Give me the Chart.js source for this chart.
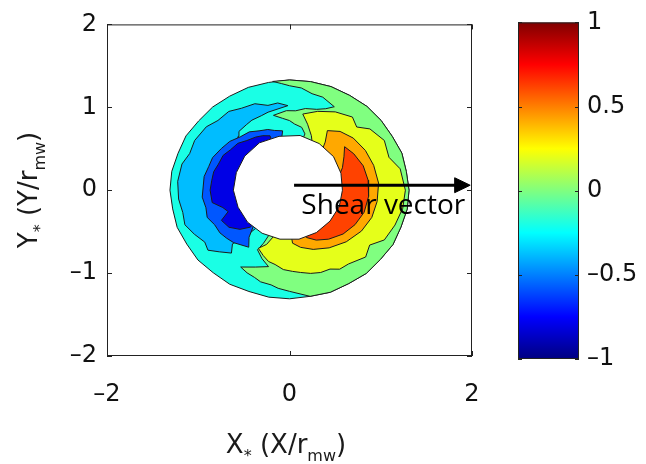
<!DOCTYPE html>
<html>
<head>
<meta charset="utf-8">
<script src="https://cdn.jsdelivr.net/npm/chart.js@4.4.1/dist/chart.umd.min.js"></script>
<style>
  html, body { margin: 0; padding: 0; background: #fff; }
  #wrap { position: relative; width: 646px; height: 464px; }
  #wrap canvas { position: absolute; left: 0; top: 0; }
</style>
</head>
<body>
<div id="wrap">
  <canvas id="ring" width="646" height="464"></canvas>
  <canvas id="cbar" width="646" height="464"></canvas>
</div>
<script>
// axis ticks
const xTicks = [-2, 0, 2];
const yTicks = [-2, -1, 0, 1, 2];
const barTicks = [-1, -0.5, 0, 0.5, 1];

// contour bands, each as [angle (deg), radius] around the centre
const rimOuter = [[-180,1.31],[-170,1.30],[-160,1.31],[-150,1.30],[-140,1.31],[-130,1.30],[-120,1.31],[-110,1.30],
  [-100,1.31],[-90,1.31],[-80,1.30],[-70,1.31],[-60,1.30],[-50,1.31],[-40,1.30],[-30,1.31],[-20,1.30],[-10,1.31],
  [0,1.31],[10,1.30],[20,1.31],[30,1.30],[40,1.31],[50,1.32],[60,1.32],[70,1.33],[80,1.33],[90,1.33],[100,1.32],
  [110,1.32],[120,1.31],[130,1.31],[140,1.30],[150,1.31],[160,1.30],[170,1.31]];
const rimInner = [[0,0.58],[20,0.6],[40,0.63],[60,0.65],[80,0.67],[100,0.66],[120,0.66],[140,0.64],[160,0.62],
  [180,0.615],[200,0.6],[220,0.6],[240,0.6],[260,0.6],[280,0.6],[300,0.59],[320,0.58],[340,0.58]];
const bandLightBlue = [[91,1.02],[97,1.06],[103,1.05],[110,1.11],[118,1.12],[125,1.16],[133,1.15],[140,1.19],
  [150,1.2],[158,1.18],[165,1.22],[175,1.23],[185,1.22],[193,1.2],[200,1.22],[207,1.17],[214,1.12],[219,1.15],
  [224,1.07],[230,0.99],[226,0.9],[229,0.75],[232,0.55],[140,0.55],[136,0.8],[131,0.86],[128,0.9],[121,0.92],
  [116,0.94],[109,0.95],[104,0.97]];
const bandMidBlue = [[96,0.72],[103,0.74],[108,0.77],[115,0.79],[122,0.83],[130,0.84],[138,0.88],[146,0.9],
  [155,0.93],[162,0.93],[170,0.95],[185,0.96],[193,0.94],[200,0.96],[207,0.92],[214,0.92],[220,0.9],[226,0.88],
  [237,0.82],[232,0.72],[226,0.55],[100,0.55]];
const bandDarkBlue = [[108,0.69],[114,0.72],[120,0.74],[128,0.76],[135,0.8],[143,0.81],[150,0.84],[158,0.84],
  [165,0.86],[172,0.86],[180,0.87],[190,0.86],[196,0.76],[201,0.72],[206,0.83],[214,0.8],[221,0.72],[226,0.62],
  [226,0.55],[108,0.55]];
const greenInner = [[-90,1.22],[-96,1.19],[-100,1.16],[-106,1.15],[-110,1.12],[-115,1.1],[-120,1.07],[-112,1.0],
  [-104,0.95],[-110,0.88],[-116,0.8],[-114,0.7],[-112,0.55],[78,0.55],[76,0.7],[80,0.77],[86,0.8],[90,0.84],
  [95,0.87],[101,0.92],[92,0.96],[86,0.96],[80,1.0],[73,1.02],[68,1.06],[64,1.12],[72,1.18],[78,1.19],
  [84,1.24],[90,1.26],[94,1.29]];
const bandYellow = [[81,0.93],[72,1.0],[62,1.07],[52,1.12],[46,1.06],[40,1.15],[30,1.2],[20,1.16],[12,1.24],
  [0,1.27],[-10,1.26],[-20,1.23],[-30,1.2],[-37,1.1],[-44,1.16],[-54,1.1],[-60,1.1],[-65,1.05],[-71,1.05],
  [-77,1.03],[-83,1.0],[-88,0.98],[-94,0.96],[-100,0.91],[-105,0.89],[-110,0.84],[-116,0.78],[-111,0.7],
  [-106,0.55],[62,0.55],[70,0.7],[76,0.82]];
const bandOrange = [[60,0.83],[52,0.9],[42,0.94],[30,0.96],[18,0.97],[5,0.98],[-8,0.97],[-20,0.96],[-32,0.93],
  [-45,0.88],[-58,0.82],[-70,0.76],[-80,0.7],[-87,0.64],[-88,0.55],[52,0.55],[56,0.7]];
const bandRed = [[41,0.8],[32,0.83],[20,0.86],[8,0.87],[-5,0.87],[-18,0.86],[-30,0.83],[-42,0.79],[-54,0.73],
  [-64,0.67],[-72,0.6],[-72,0.55],[15,0.55],[25,0.64],[34,0.72]];

// green band follows the outer rim between these angles
const greenRimFrom = 98, greenRimTo = -80;
const bandGreen = [[greenRimFrom, 1.325],
  ...rimOuter.filter(p => p[0] < greenRimFrom && p[0] > greenRimTo).reverse(),
  [greenRimTo, 1.30], ...greenInner];

// painted bottom to top, with the value of each band
const ringBands = [rimOuter, bandLightBlue, bandMidBlue, bandDarkBlue, bandGreen, bandYellow, bandOrange, bandRed];
const ringLevels = [-0.2, -0.38, -0.58, -0.8, 0, 0.2, 0.42, 0.62];

// shear vector (x, y)
const shearFrom = [0.05, 0.06];
const shearTo = [1.98, 0.06];

const FONT = '"DejaVu Sans", sans-serif';

function clamp(v) { return Math.max(0, Math.min(1, v)); }
function jet(t) {
  const r = clamp(Math.min(4 * t - 1.5, -4 * t + 4.5));
  const g = clamp(Math.min(4 * t - 0.5, -4 * t + 3.5));
  const b = clamp(Math.min(4 * t + 0.5, -4 * t + 2.5));
  return 'rgb(' + Math.round(r * 255) + ',' + Math.round(g * 255) + ',' + Math.round(b * 255) + ')';
}
function jetValue(v) { return jet((v + 1) / 2); }

function toXY(pts) {
  const out = pts.map(([a, r]) => ({ x: r * Math.cos(a * Math.PI / 180), y: r * Math.sin(a * Math.PI / 180) }));
  out.push(out[0]);
  return out;
}
function minusSign(v) { return v < 0 ? '\u2013' + Math.abs(v) : String(v); }

const datasets = [];
ringBands.forEach((band, i) => {
  datasets.push({
    data: toXY(band), showLine: true, fill: 'shape',
    backgroundColor: jetValue(ringLevels[i]), borderColor: '#1c1c1c', borderWidth: 1,
    pointRadius: 0, tension: 0
  });
});
datasets.push({
  data: toXY(rimInner), showLine: true, fill: 'shape',
  backgroundColor: '#ffffff', borderColor: '#1c1c1c', borderWidth: 1, pointRadius: 0, tension: 0
});
// arrow shaft and head
const headLen = 0.17, headHalf = 0.09;
datasets.push({
  data: [{ x: shearFrom[0], y: shearFrom[1] }, { x: shearTo[0] - headLen + 0.02, y: shearTo[1] }],
  showLine: true, borderColor: '#000', borderWidth: 3, pointRadius: 0
});
datasets.push({
  data: [{ x: shearTo[0] - headLen, y: shearTo[1] + headHalf }, { x: shearTo[0], y: shearTo[1] },
         { x: shearTo[0] - headLen, y: shearTo[1] - headHalf }, { x: shearTo[0] - headLen, y: shearTo[1] + headHalf }],
  showLine: true, fill: 'shape', backgroundColor: '#000', borderColor: '#000', borderWidth: 1, pointRadius: 0
});
// later datasets go on top
datasets.forEach((d, i) => { d.order = datasets.length - i; });

function drawRich(ctx, parts, size) {
  // parts: [text, isSubscript]; drawn centred on the current origin, baseline at 0
  const sub = Math.round(size * 0.62);
  let total = 0;
  const widths = parts.map(([t, s]) => {
    ctx.font = (s ? sub : size) + 'px ' + FONT;
    const w = ctx.measureText(t).width;
    total += w;
    return w;
  });
  let x = -total / 2;
  parts.forEach(([t, s], i) => {
    ctx.font = (s ? sub : size) + 'px ' + FONT;
    ctx.fillText(t, x, s ? size * 0.3 : 0);
    x += widths[i];
  });
}

const ringDecor = {
  id: 'ringDecor',
  afterDatasetsDraw(chart) {
    const { ctx, chartArea: a, scales: { x, y } } = chart;
    ctx.save();
    ctx.strokeStyle = '#222';
    ctx.lineWidth = 1;
    ctx.strokeRect(a.left + 0.5, a.top + 0.5, a.right - a.left - 1, a.bottom - a.top - 1);
    ctx.beginPath();
    xTicks.forEach(v => {
      const px = Math.round(x.getPixelForValue(v)) + 0.5;
      ctx.moveTo(px, a.bottom); ctx.lineTo(px, a.bottom - 5);
      ctx.moveTo(px, a.top); ctx.lineTo(px, a.top + 5);
    });
    yTicks.forEach(v => {
      const py = Math.round(y.getPixelForValue(v)) + 0.5;
      ctx.moveTo(a.left, py); ctx.lineTo(a.left + 5, py);
      ctx.moveTo(a.right, py); ctx.lineTo(a.right - 5, py);
    });
    ctx.stroke();

    ctx.fillStyle = '#000';
    ctx.textAlign = 'left';
    ctx.textBaseline = 'alphabetic';
    ctx.font = '28px "Open Sans", sans-serif';
    ctx.fillText('Shear vector', x.getPixelForValue(0.13), y.getPixelForValue(-0.285));

    ctx.fillStyle = '#1a1a1a';
    ctx.translate(286, 453);
    drawRich(ctx, [['X', false], ['*', true], [' (X/r', false], ['mw', true], [')', false]], 26);
    ctx.setTransform(1, 0, 0, 1, 0, 0);
    ctx.translate(37, 190);
    ctx.rotate(-Math.PI / 2);
    drawRich(ctx, [['Y', false], ['*', true], [' (Y/r', false], ['mw', true], [')', false]], 26);
    ctx.restore();
  }
};

new Chart(document.getElementById('ring'), {
  type: 'scatter',
  data: { datasets },
  options: {
    responsive: false,
    animation: false,
    layout: { padding: { left: 0, top: 20, right: 174, bottom: 0 } },
    plugins: { legend: { display: false }, tooltip: { enabled: false } },
    scales: {
      x: {
        type: 'linear', min: -2, max: 2,
        afterBuildTicks: s => { s.ticks = xTicks.map(v => ({ value: v })); },
        afterFit: s => { s.height = 108; },
        grid: { display: false, drawTicks: false },
        border: { display: false },
        ticks: { color: '#111', padding: 24, font: { family: FONT, size: 24 }, callback: minusSign }
      },
      y: {
        type: 'linear', min: -2, max: 2,
        afterBuildTicks: s => { s.ticks = yTicks.map(v => ({ value: v })); },
        afterFit: s => { s.width = 107; },
        grid: { display: false, drawTicks: false },
        border: { display: false },
        ticks: { color: '#111', padding: 10, font: { family: FONT, size: 24 }, callback: minusSign }
      }
    }
  },
  plugins: [ringDecor]
});

// colour bar
const jetStops = [0, 0.125, 0.375, 0.625, 0.875, 1];
const barDecor = {
  id: 'barDecor',
  afterDatasetsDraw(chart) {
    const { ctx, chartArea: a, scales: { y } } = chart;
    ctx.save();
    ctx.strokeStyle = '#222';
    ctx.lineWidth = 1;
    ctx.strokeRect(a.left + 0.5, a.top + 0.5, a.right - a.left - 1, a.bottom - a.top - 1);
    ctx.beginPath();
    barTicks.forEach(v => {
      const py = Math.round(y.getPixelForValue(v)) + 0.5;
      ctx.moveTo(a.left, py); ctx.lineTo(a.left + 4, py);
      ctx.moveTo(a.right, py); ctx.lineTo(a.right - 4, py);
    });
    ctx.stroke();
    ctx.restore();
  }
};
new Chart(document.getElementById('cbar'), {
  type: 'bar',
  data: {
    labels: ['v'],
    datasets: [{
      data: [[-1, 1]],
      barPercentage: 1, categoryPercentage: 1, borderWidth: 0,
      backgroundColor: c => {
        const a = c.chart.chartArea;
        if (!a) return '#888';
        const g = c.chart.ctx.createLinearGradient(0, a.bottom, 0, a.top);
        jetStops.forEach(t => g.addColorStop(t, jet(t)));
        return g;
      }
    }]
  },
  options: {
    responsive: false,
    animation: false,
    layout: { padding: { left: 518, top: 18, right: 0, bottom: 105 } },
    plugins: { legend: { display: false }, tooltip: { enabled: false } },
    scales: {
      x: { display: false },
      y: {
        position: 'right', min: -1, max: 1,
        afterBuildTicks: s => { s.ticks = barTicks.map(v => ({ value: v })); },
        afterFit: s => { s.width = 67; },
        grid: { display: false, drawTicks: false },
        border: { display: false },
        ticks: { color: '#111', padding: 8, font: { family: FONT, size: 24 }, callback: minusSign }
      }
    }
  },
  plugins: [barDecor]
});
</script>
</body>
</html>
